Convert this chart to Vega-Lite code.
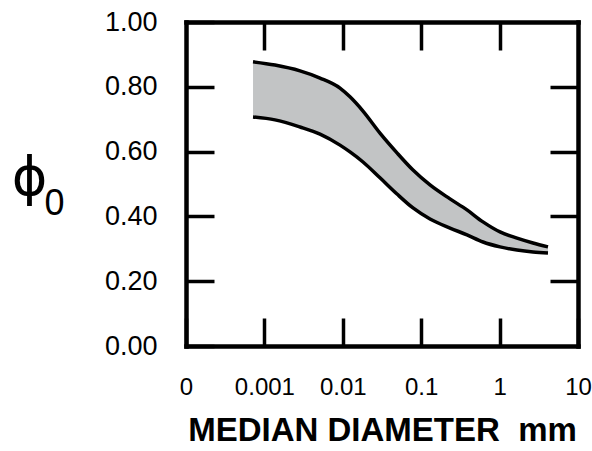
{
  "$schema": "https://vega.github.io/schema/vega-lite/v6.json",
  "width": 392,
  "height": 324,
  "autosize": "none",
  "padding": {"left": 186, "top": 22, "right": 14, "bottom": 105},
  "config": {
    "view": {"stroke": null}
  },
  "data": {
    "values": [
      {"d": 0.000716, "hi": 0.877, "lo": 0.707},
      {"d": 0.001365, "hi": 0.867, "lo": 0.698},
      {"d": 0.002845, "hi": 0.849, "lo": 0.676},
      {"d": 0.00512, "hi": 0.827, "lo": 0.654},
      {"d": 0.00921, "hi": 0.796, "lo": 0.620},
      {"d": 0.01235, "hi": 0.769, "lo": 0.599},
      {"d": 0.0181, "hi": 0.725, "lo": 0.568},
      {"d": 0.02981, "hi": 0.657, "lo": 0.519},
      {"d": 0.04913, "hi": 0.596, "lo": 0.469},
      {"d": 0.07859, "hi": 0.543, "lo": 0.426},
      {"d": 0.1295, "hi": 0.497, "lo": 0.392},
      {"d": 0.233, "hi": 0.454, "lo": 0.364},
      {"d": 0.3839, "hi": 0.420, "lo": 0.343},
      {"d": 0.6141, "hi": 0.383, "lo": 0.321},
      {"d": 1.012, "hi": 0.352, "lo": 0.306},
      {"d": 1.667, "hi": 0.333, "lo": 0.296},
      {"d": 2.667, "hi": 0.318, "lo": 0.290},
      {"d": 4.143, "hi": 0.306, "lo": 0.287}
    ]
  },
  "resolve": {"axis": {"x": "independent", "y": "independent"}},
  "layer": [
    {
      "mark": {"type": "area", "interpolate": "monotone", "color": "#c2c4c5"},
      "encoding": {
        "x": {
          "field": "d", "type": "quantitative",
          "scale": {"type": "log", "domain": [0.0001, 10], "nice": false},
          "axis": {
            "orient": "bottom",
            "values": [0.0001, 0.001, 0.01, 0.1, 1, 10],
            "labelExpr": "datum.value < 0.0005 ? '0' : format(datum.value, '~g')",
            "grid": true, "gridOpacity": 0,
            "domainColor": "black", "domainWidth": 4.5, "domainCap": "square",
            "tickSize": -28, "tickWidth": 3.5, "tickColor": "black",
            "labelFont": "Liberation Sans", "labelFontSize": 24, "labelColor": "black",
            "labelPadding": 57, "labelFlush": false,
            "title": "MEDIAN DIAMETER\u00a0\u00a0mm",
            "titleFont": "Liberation Sans", "titleFontSize": 33, "titleFontWeight": "bold", "titleColor": "black",
            "titlePadding": 15
          }
        },
        "y": {
          "field": "lo", "type": "quantitative",
          "scale": {"domain": [0, 1], "nice": false},
          "axis": {
            "orient": "left",
            "values": [0, 0.2, 0.4, 0.6, 0.8, 1.0],
            "labelExpr": "format(datum.value, '.2f')",
            "grid": true, "gridOpacity": 0,
            "domainColor": "black", "domainWidth": 4.5, "domainCap": "square",
            "tickSize": -28, "tickWidth": 3.5, "tickColor": "black",
            "labelFont": "Liberation Sans", "labelFontSize": 27, "labelColor": "black",
            "labelPadding": 57,
            "title": "ϕ",
            "titleFont": "DejaVu Sans", "titleFontSize": 54, "titleFontWeight": "normal", "titleColor": "black",
            "titleAngle": 0, "titleAlign": "center", "titleBaseline": "middle",
            "titleX": -157, "titleY": 156
          }
        },
        "y2": {"field": "hi"}
      }
    },
    {
      "mark": {"type": "line", "interpolate": "monotone", "color": "black", "strokeWidth": 3.5},
      "encoding": {
        "x": {
          "field": "d", "type": "quantitative",
          "axis": {"orient": "top", "values": [0.001, 0.01, 0.1, 1], "labels": false, "title": null,
            "grid": true, "gridOpacity": 0,
            "domainColor": "black", "domainWidth": 4.5, "domainCap": "square",
            "tickSize": -28, "tickWidth": 3.5, "tickColor": "black"}
        },
        "y": {
          "field": "hi", "type": "quantitative",
          "axis": {
            "orient": "right", "values": [0.2, 0.4, 0.6, 0.8], "labels": false,
            "grid": true, "gridOpacity": 0,
            "domainColor": "black", "domainWidth": 4.5, "domainCap": "square",
            "tickSize": -28, "tickWidth": 3.5, "tickColor": "black",
            "title": "0",
            "titleFont": "Liberation Sans", "titleFontSize": 36, "titleFontWeight": "normal", "titleColor": "black",
            "titleAngle": 0, "titleAlign": "center", "titleBaseline": "middle",
            "titleX": -524, "titleY": 181
          }
        }
      }
    },
    {
      "mark": {"type": "line", "interpolate": "monotone", "color": "black", "strokeWidth": 3.5},
      "encoding": {
        "x": {"field": "d", "type": "quantitative", "axis": null},
        "y": {"field": "lo", "type": "quantitative", "axis": null}
      }
    }
  ]
}
